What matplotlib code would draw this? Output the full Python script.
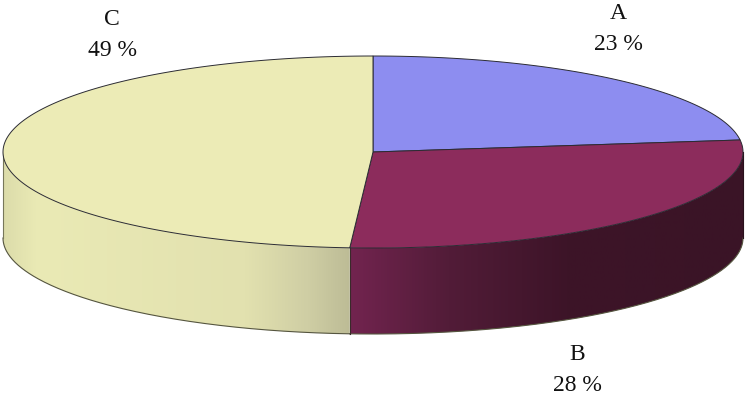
import numpy as np
import matplotlib
matplotlib.use('Agg')
import matplotlib.pyplot as plt
from matplotlib.colors import LinearSegmentedColormap
from matplotlib.patches import Polygon

labels = ['A', 'B', 'C']
values = [23, 28, 49]
top_colors = ['#8d8df0', '#8c2c5c', '#ecebb6']
side_stops = [None,
              [(0, '#3a1426'), (0.45, '#3d1428'), (0.75, '#521c38'), (1, '#72244f')],
              [(0, '#bdbc96'), (0.12, '#cfcea4'), (0.3, '#e2e1af'), (0.9, '#eaeab5'), (1, '#dcdcaa')]]
label_pos = [(618, 29), (577, 370), (112, 35)]

cx, cy, rx, ry, depth = 373, 152, 370, 96, 86


def arc(a1, a2, n=200):
    t = np.radians(np.linspace(a1, a2, n))
    return cx + rx * np.cos(t), cy - ry * np.sin(t)


fig = plt.figure(figsize=(7.47, 4.0), dpi=100)
ax = fig.add_axes([0, 0, 1, 1])
ax.axis('off')

# angles go clockwise from the top
start = 90.0
angles = []
for v in values:
    end = start - v * 3.6
    angles.append((start, end))
    start = end

# side wall, only the front part of the rim is visible
for (a1, a2), stops in zip(angles, side_stops):
    lo, hi = max(a2, -180), min(a1, 0)
    if stops is None or lo >= hi:
        continue
    cmap = LinearSegmentedColormap.from_list('side', stops)
    x, y = arc(hi, lo)
    xs = np.concatenate([x, x[::-1]])
    ys = np.concatenate([y, y[::-1] + depth])
    wall = Polygon(np.column_stack([xs, ys]), closed=True, fc='none', ec='none')
    ax.add_patch(wall)
    im = ax.imshow(np.linspace(1, 0, 256)[None, :], cmap=cmap, aspect='auto',
                   extent=[x.min(), x.max(), 400, 0], zorder=1)
    im.set_clip_path(wall)
    ax.plot(x, y + depth, color='#55553f', lw=0.8, zorder=3)

ax.set_xlim(0, 747)
ax.set_ylim(400, 0)

# outline of the wall edges
ax.plot([cx - rx, cx - rx], [cy, cy + depth], color='#77775a', lw=0.8, zorder=3)
ax.plot([cx + rx, cx + rx], [cy, cy + depth], color='#2a101c', lw=0.8, zorder=3)
x, y = arc(angles[1][1], angles[1][1])
ax.plot([x[0], x[0]], [y[0], y[0] + depth], color='#3a2a2a', lw=0.8, zorder=3)

# top face
for (a1, a2), col in zip(angles, top_colors):
    x, y = arc(a1, a2)
    pts = np.column_stack([np.r_[cx, x], np.r_[cy, y]])
    ax.add_patch(Polygon(pts, closed=True, fc=col, ec='#2b2b33', lw=0.7, zorder=4))

for name, v, (px, py) in zip(labels, values, label_pos):
    ax.text(px, py, f'{name}\n{v} %', ha='center', va='center', family='Liberation Serif',
            fontsize=17, color='#111111', linespacing=1.65, zorder=5)

fig.savefig('out.png', dpi=100)
